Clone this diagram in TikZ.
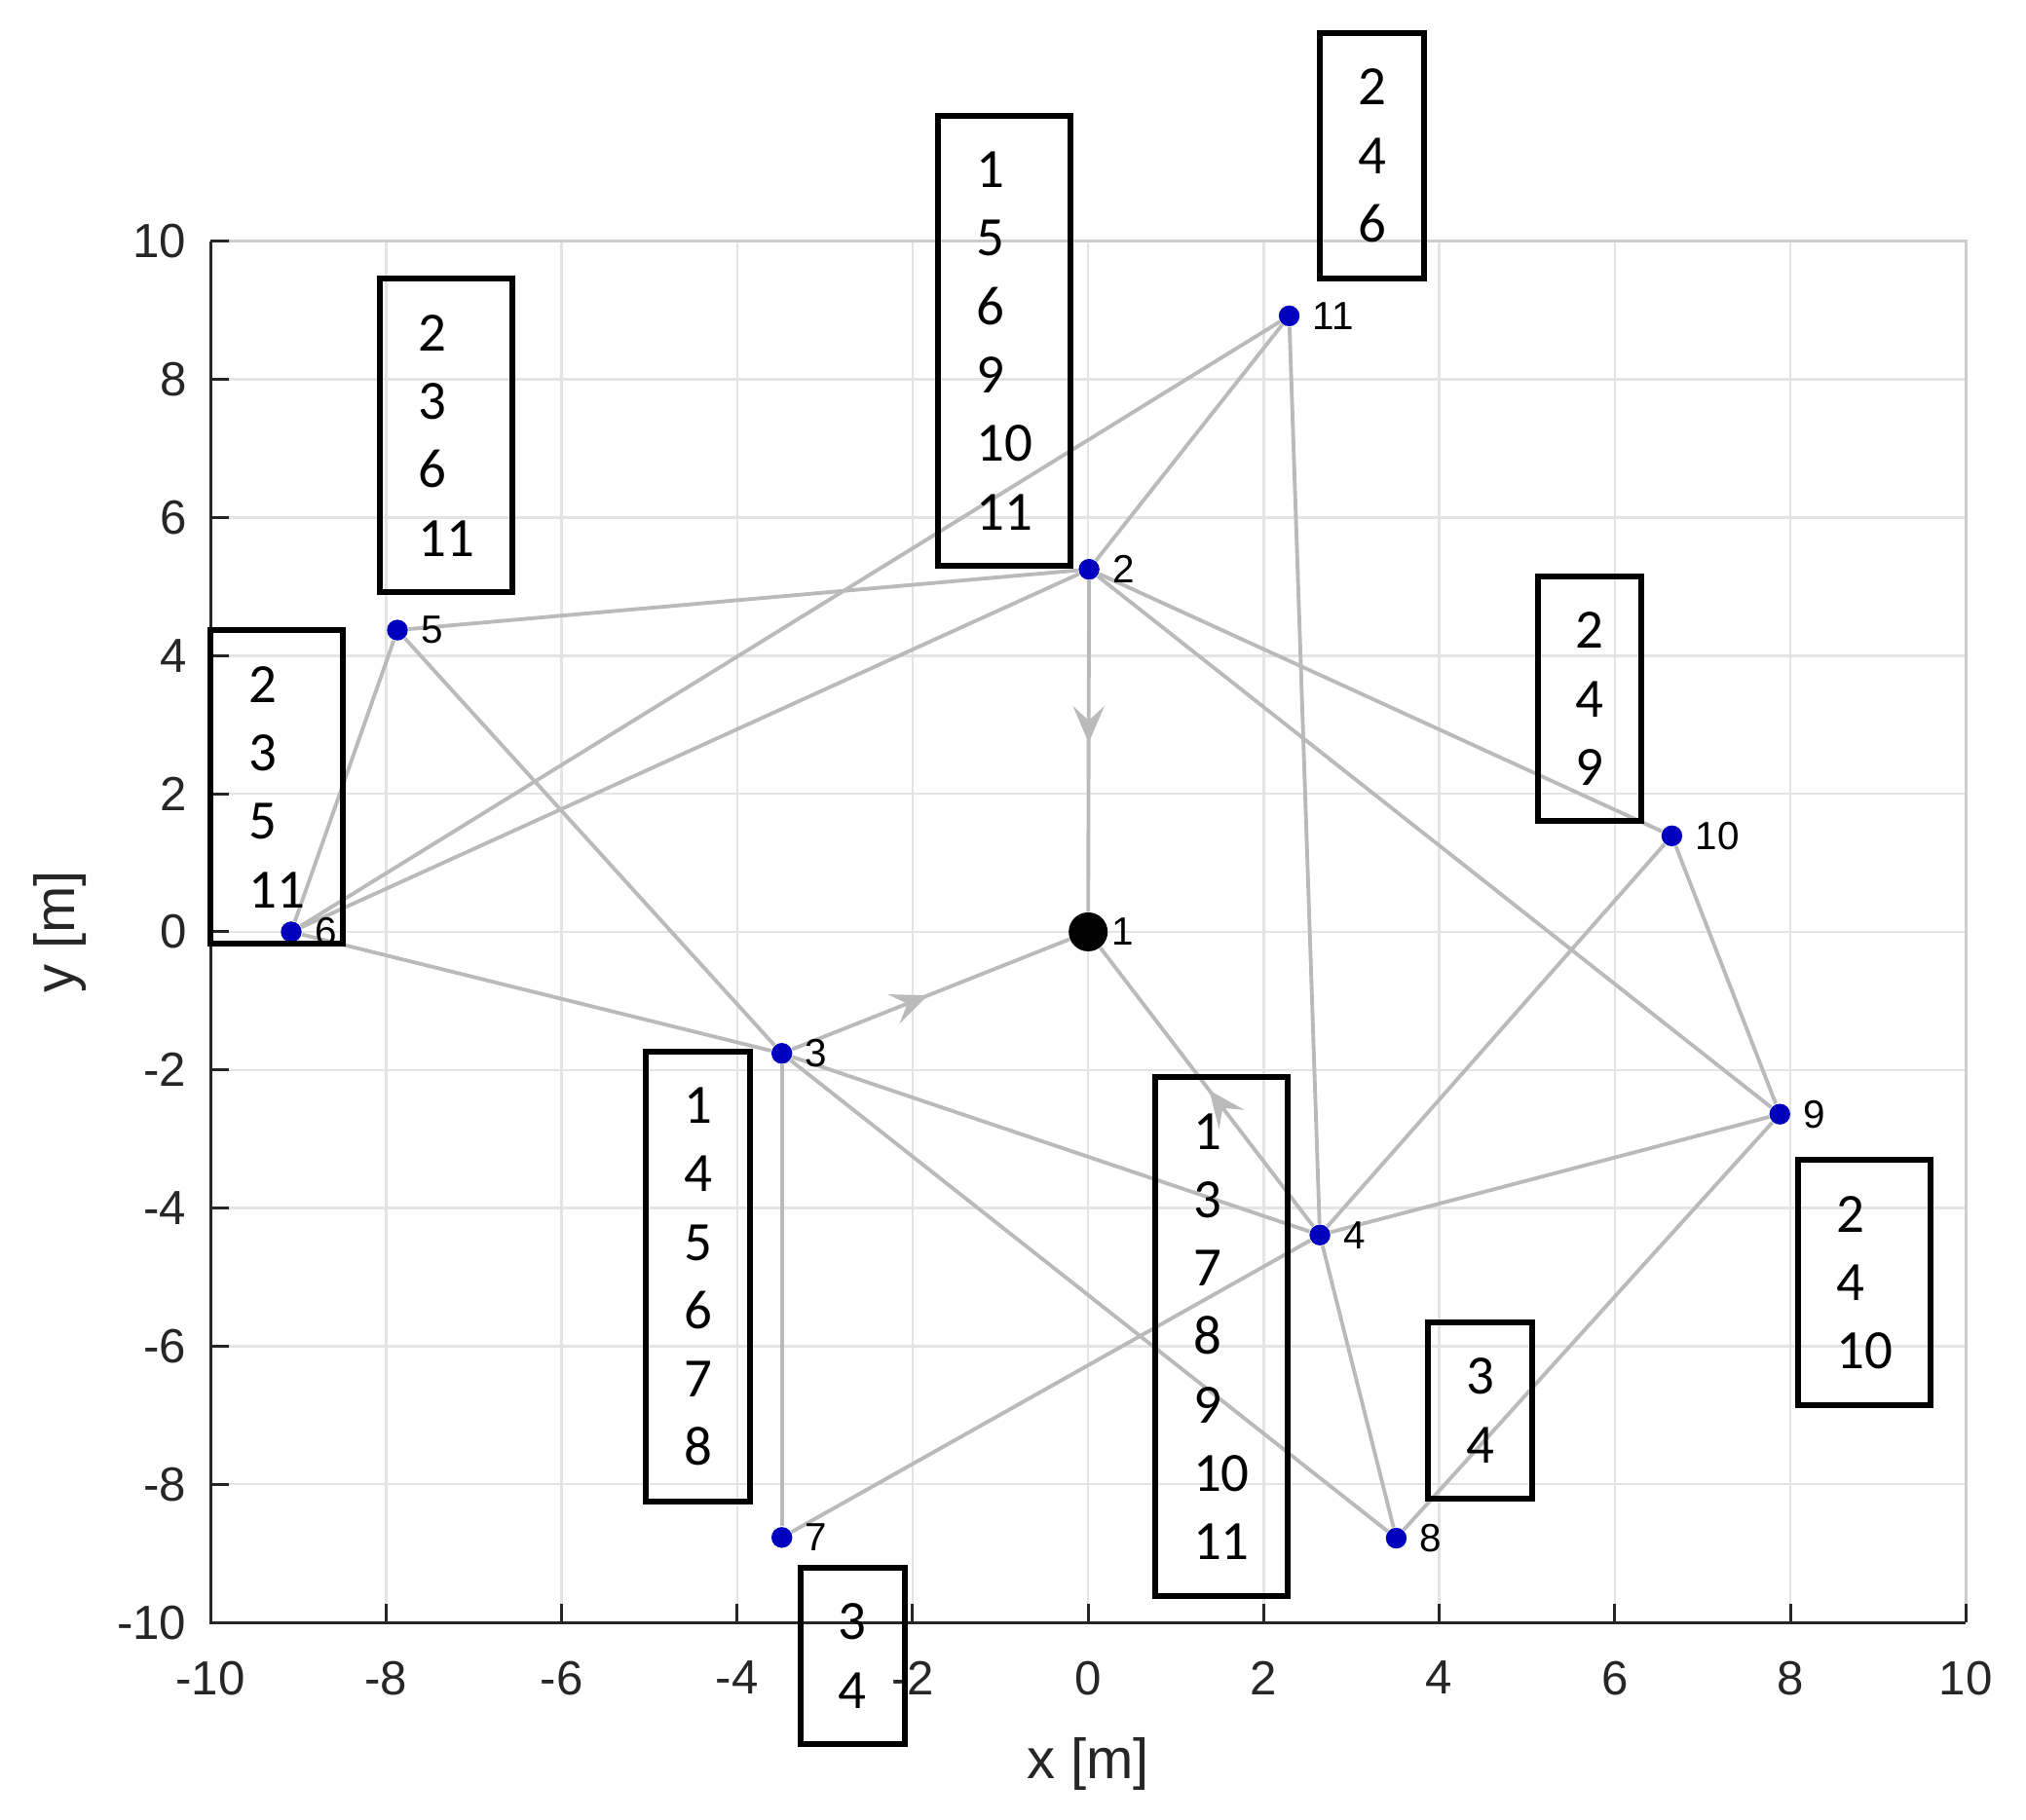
\documentclass[tikz,border=0pt]{standalone}
\usepackage{fontspec}
\setmainfont{Carlito}
\newfontfamily\axisfont{Liberation Sans}
\usepackage{tikz}
\usetikzlibrary{arrows,arrows.meta}
\usetikzlibrary{calc, positioning}
\usetikzlibrary{decorations, decorations.markings}
\definecolor{edgegray}{RGB}{186,186,186}
\definecolor{gridgray}{RGB}{228,228,228}
\definecolor{framegray}{RGB}{205,205,205}
\definecolor{axisgray}{RGB}{38,38,38}
\definecolor{dotblue}{RGB}{0,0,190}
\tikzset{
    bareE/.style={draw=edgegray, line width=1.1pt},
    bareA/.style args={#1 #2}{
        bareE,
        decoration={
            markings,
            mark= at position #1 with
                {
                    \fill[edgegray] (0pt,0pt) -- (-#2, 0.43*#2) -- (-0.6*#2, 0pt) -- (-#2, -0.43*#2) -- cycle;
                },
        },
        postaction={decorate}
    },
    bareA/.default={0.49 0.38cm}
}
\tikzset{
    gridln/.style={draw=gridgray, line width=0.7pt},
    axisln/.style={draw=axisgray, line width=0.85pt},
    dotB/.style={circle, fill=dotblue, inner sep=0pt, minimum size=0.214cm},
    dotK/.style={circle, fill=black, inner sep=0pt, minimum size=0.40cm},
    lbl/.style={inner sep=0pt, font=\axisfont\fontsize{11.5}{12}\selectfont},
    ticklbl/.style={inner sep=0pt, text=axisgray, font=\axisfont\fontsize{14}{15}\selectfont},
    axlbl/.style={inner sep=0pt, text=axisgray, font=\axisfont\fontsize{16.5}{18}\selectfont},
    nbrbox/.style={draw=black, line width=1.7pt, align=left, anchor=north west,
        inner xsep=0.39cm, inner ysep=0.37cm, font=\fontsize{16.2}{20}\selectfont}
}

\begin{document}
\begin{tikzpicture}[x=0.9011cm, y=0.7091cm]
    \useasboundingbox (-12.398,-12.849) rectangle (10.685,13.495);
    % grid and axes
    \foreach \g in {-8,-6,...,8} {
        \draw[gridln] (\g,-10) -- (\g,10);
        \draw[gridln] (-10,\g) -- (10,\g);
    }
    \draw[draw=framegray, line width=0.8pt] (-10,10) -- (10,10) -- (10,-10);
    \draw[axisln] (-10,10) -- (-10,-10) -- (10,-10);
    \foreach \g in {-10,-8,...,10} {
        \draw[axisln] (\g,-10) -- ++(0,0.19cm);
        \draw[axisln] (-10,\g) -- ++(0.19cm,0);
        \node[ticklbl, anchor=north] (tx\g) at (\g,-10) [yshift=-0.39cm] {\g};
        \node[ticklbl, anchor=east] (ty\g) at (-10,\g) [xshift=-0.24cm] {\g};
    }
    \node[axlbl] (xl) at (0,-12.045) {x [m]};
    \node[axlbl, rotate=90] (yl) at (-11.71,0) {y [m]};
    % nodes
    \node[dotK] (a1) at (0,0) {};
    \node[dotB] (a2) at (0.01,5.25) {};
    \node[dotB] (a3) at (-3.49,-1.76) {};
    \node[dotB] (a4) at (2.64,-4.39) {};
    \node[dotB] (a5) at (-7.87,4.37) {};
    \node[dotB] (a6) at (-9.08,0) {};
    \node[dotB] (a7) at (-3.49,-8.77) {};
    \node[dotB] (a8) at (3.51,-8.78) {};
    \node[dotB] (a9) at (7.88,-2.64) {};
    \node[dotB] (a10) at (6.65,1.39) {};
    \node[dotB] (a11) at (2.29,8.92) {};
    % links
    \draw[bareA] (a2) -- (a1);
    \draw[bareA] (a3) -- (a1);
    \draw[bareA] (a4) -- (a1);
    \draw[bareE] (a5) -- (a2);
    \draw[bareE] (a6) -- (a2);
    \draw[bareE] (a6) -- (a11);
    \draw[bareE] (a2) -- (a11);
    \draw[bareE] (a2) -- (a10);
    \draw[bareE] (a2) -- (a9);
    \draw[bareE] (a6) -- (a5);
    \draw[bareE] (a5) -- (a3);
    \draw[bareE] (a6) -- (a3);
    \draw[bareE] (a3) -- (a4);
    \draw[bareE] (a3) -- (a7);
    \draw[bareE] (a3) -- (a8);
    \draw[bareE] (a7) -- (a4);
    \draw[bareE] (a11) -- (a4);
    \draw[bareE] (a4) -- (a10);
    \draw[bareE] (a4) -- (a9);
    \draw[bareE] (a4) -- (a8);
    \draw[bareE] (a8) -- (a9);
    \draw[bareE] (a10) -- (a9);
    % node numbers
    \node[lbl, right=0.03cm of a1] (l1) {1};
    \node[lbl, right=0.12cm of a2] (l2) {2};
    \node[lbl, right=0.12cm of a3] (l3) {3};
    \node[lbl, right=0.12cm of a4] (l4) {4};
    \node[lbl, right=0.12cm of a5] (l5) {5};
    \node[lbl, right=0.12cm of a6] (l6) {6};
    \node[lbl, right=0.12cm of a7] (l7) {7};
    \node[lbl, right=0.12cm of a8] (l8) {8};
    \node[lbl, right=0.12cm of a9] (l9) {9};
    \node[lbl, right=0.12cm of a10] (l10) {10};
    \node[lbl, right=0.12cm of a11] (l11) {11};
    % neighbour lists
    \node[nbrbox] (b2) at (-1.742,11.86) {1\\5\\6\\9\\10\\11};
    \node[nbrbox] (b11) at (2.606,13.06) {2\\4\\6};
    \node[nbrbox] (b5) at (-8.098,9.50) {2\\3\\6\\11};
    \node[nbrbox] (b6) at (-10.029,4.41) {2\\3\\5\\11};
    \node[nbrbox] (b10) at (5.087,5.19) {2\\4\\9};
    \node[nbrbox] (b9) at (8.057,-3.265) {2\\4\\10};
    \node[nbrbox] (b3) at (-5.072,-1.690) {1\\4\\5\\6\\7\\8};
    \node[nbrbox] (b4) at (0.732,-2.065) {1\\3\\7\\8\\9\\10\\11};
    \node[nbrbox] (b8) at (3.841,-5.611) {3\\4};
    \node[nbrbox] (b7) at (-3.309,-9.167) {3\\4};
\end{tikzpicture}
\end{document}
